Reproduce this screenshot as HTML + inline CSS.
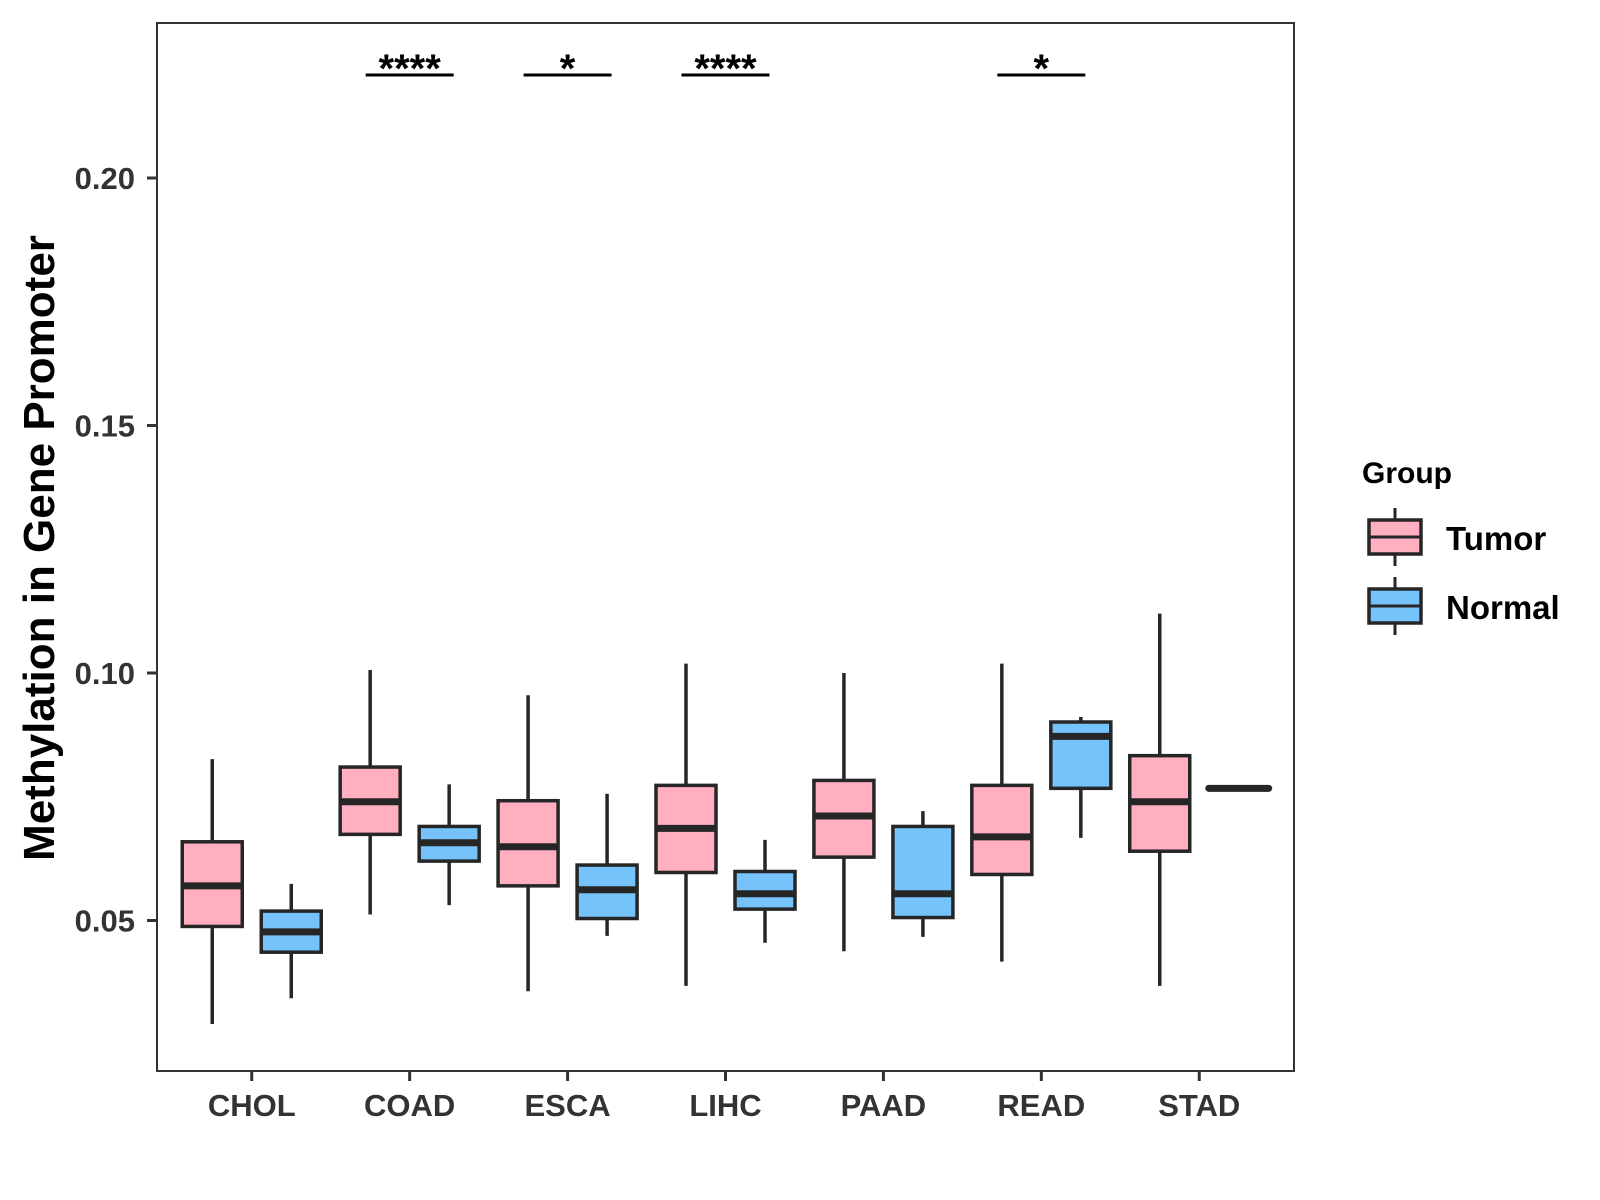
<!DOCTYPE html>
<html><head><meta charset="utf-8"><style>
html,body{margin:0;padding:0;background:#fff;}
svg{display:block;font-family:"Liberation Sans",sans-serif;font-weight:bold;}
</style></head><body>
<svg id="chart" width="1600" height="1200" viewBox="0 0 1600 1200">
<rect x="0" y="0" width="1600" height="1200" fill="#fff"/>
<g id="plot"></g>
<rect x="157" y="23" width="1137" height="1048" fill="none" stroke="#333" stroke-width="2"/>
<text transform="translate(54,548) rotate(-90)" text-anchor="middle" font-size="44" fill="#000">Methylation in Gene Promoter</text>
<g>
<text x="1362" y="483" font-size="30" fill="#000">Group</text>
<g>
<line x1="1395" y1="508" x2="1395" y2="566" stroke="#262626" stroke-width="3"/>
<rect x="1369" y="520" width="52" height="34" fill="#ffafc0" stroke="#262626" stroke-width="3.5"/>
<line x1="1369" y1="537" x2="1421" y2="537" stroke="#262626" stroke-width="3"/>
<text x="1446" y="550" font-size="33" fill="#000">Tumor</text>
</g>
<g>
<line x1="1395" y1="577" x2="1395" y2="635" stroke="#262626" stroke-width="3"/>
<rect x="1369" y="589" width="52" height="34" fill="#76c2fa" stroke="#262626" stroke-width="3.5"/>
<line x1="1369" y1="606" x2="1421" y2="606" stroke="#262626" stroke-width="3"/>
<text x="1446" y="619" font-size="33" fill="#000">Normal</text>
</g>
</g>
</svg>
<script>
const categories = ["CHOL","COAD","ESCA","LIHC","PAAD","READ","STAD"];
// [lowWhisker, Q1, median, Q3, highWhisker]
const tumorStats = [
  [0.0291,0.0488,0.0570,0.0659,0.0826],
  [0.0512,0.0674,0.0740,0.0810,0.1006],
  [0.0357,0.0570,0.0649,0.0742,0.0955],
  [0.0368,0.0597,0.0686,0.0773,0.1019],
  [0.0438,0.0628,0.0711,0.0783,0.1000],
  [0.0417,0.0593,0.0669,0.0773,0.1019],
  [0.0368,0.0640,0.0740,0.0833,0.1120]
];
const normalStats = [
  [0.0343,0.0436,0.0477,0.0519,0.0574],
  [0.0531,0.0620,0.0657,0.0690,0.0775],
  [0.0469,0.0504,0.0562,0.0612,0.0756],
  [0.0455,0.0523,0.0554,0.0599,0.0663],
  [0.0467,0.0506,0.0554,0.0690,0.0721],
  [0.0667,0.0767,0.0872,0.0901,0.0911],
  [0.0767,0.0767,0.0767,0.0767,0.0767]
];
const yTicks = [0.05,0.10,0.15,0.20];
const yTickLabels = ["0.05","0.10","0.15","0.20"];
const sigCategories = ["COAD","ESCA","LIHC","READ"];
const sigLabels = ["****","*","****","*"];
const sigLevel = 0.2208;

const NS="http://www.w3.org/2000/svg";
const plot=document.getElementById('plot');
const pL=157,pR=1294,pT=23,pB=1071;
const step=(pR-pL)/(categories.length-1+0.6*2);
function xScale(i){return pL+step*(0.6+i);}
function yScale(v){return 673-(v-0.10)*4950;}
function mk(tag,attrs,parent){const e=document.createElementNS(NS,tag);for(const k in attrs)e.setAttribute(k,attrs[k]);(parent||plot).appendChild(e);return e;}

yTicks.forEach((t,i)=>{
  const y=yScale(t);
  const tk=mk('line',{x1:pL-10,x2:pL,y1:y,y2:y,stroke:'#333','stroke-width':3});
  
  
  const lb=mk('text',{x:pL-22,y:y+11,'text-anchor':'end','font-size':31,fill:'#333'});
  
  
  lb.textContent=yTickLabels[i];
});
categories.forEach((c,i)=>{
  const x=xScale(i);
  const tk=mk('line',{x1:x,x2:x,y1:pB,y2:pB+10,stroke:'#333','stroke-width':3});
  
  
  const lb=mk('text',{x:x,y:pB+45,'text-anchor':'middle','font-size':31,fill:'#333'});
  
  
  lb.textContent=c;
});
const off=39.5,hw=30;
function drawBox(s,cx,fill,name){
  const g=mk('g',{});
  
  
  const [lo,q1,md,q3,hi]=s;
  mk('line',{x1:cx,x2:cx,y1:yScale(lo),y2:yScale(hi),stroke:'#262626','stroke-width':3.5},g);
  if(q3>q1){
    mk('rect',{x:cx-hw,y:yScale(q3),width:2*hw,height:yScale(q1)-yScale(q3),fill:fill,stroke:'#262626','stroke-width':3.5},g);
  }
  mk('line',{x1:cx-hw,x2:cx+hw,y1:yScale(md),y2:yScale(md),stroke:'#262626','stroke-width':7,'stroke-linecap':q3>q1?'butt':'round'},g);
}
categories.forEach((c,i)=>{
  drawBox(tumorStats[i],xScale(i)-off,'#ffafc0','box-tumor-'+c.toLowerCase());
  drawBox(normalStats[i],xScale(i)+off,'#76c2fa','box-normal-'+c.toLowerCase());
});
sigCategories.forEach((c,j)=>{
  const i=categories.indexOf(c);
  const x=xScale(i),y=yScale(sigLevel);
  const ln=mk('line',{x1:x-44,x2:x+44,y1:y,y2:y,stroke:'#000','stroke-width':3});
  
  
  const t=mk('text',{x:x,y:y+7,'text-anchor':'middle','font-size':40,fill:'#000'});
  
  
  t.textContent=sigLabels[j];
});
</script>
</body></html>
